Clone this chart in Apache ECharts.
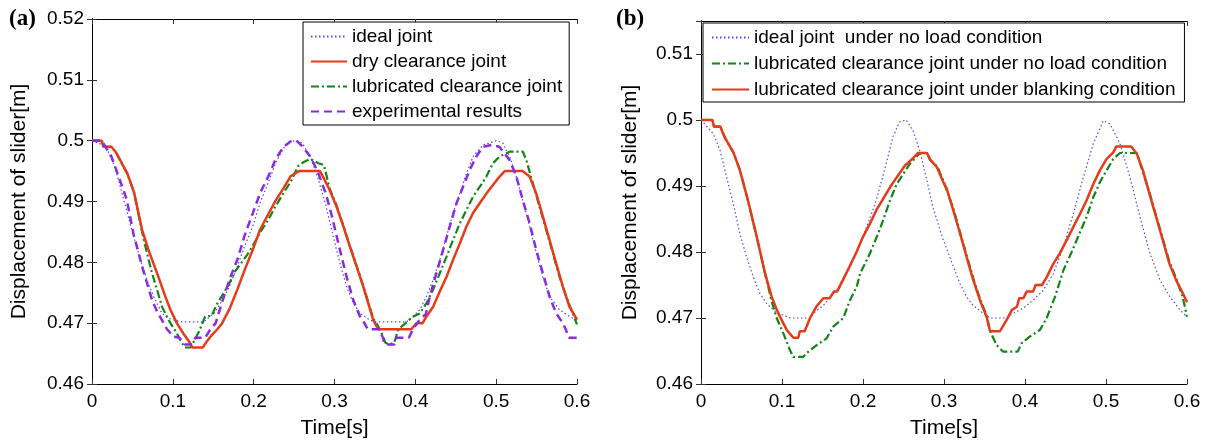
<!DOCTYPE html>
<html>
<head>
<meta charset="utf-8">
<script src="https://cdn.jsdelivr.net/npm/echarts@6/dist/echarts.min.js"></script>
<style>
html,body{margin:0;padding:0;background:#fff;}
#chart{width:1213px;height:447px;}
</style>
</head>
<body>
<div id="chart"></div>
<script>
// ---------- Data (time [s], displacement [m]) ----------
const xTicks = [0, 0.1, 0.2, 0.3, 0.4, 0.5, 0.6];
const yTicksA = [0.46, 0.47, 0.48, 0.49, 0.5, 0.51, 0.52];
const yTicksB = [0.46, 0.47, 0.48, 0.49, 0.5, 0.51];

const namesA = ['ideal joint', 'dry clearance joint', 'lubricated clearance joint', 'experimental results'];
const namesB = ['ideal joint  under no load condition', 'lubricated clearance joint under no load condition', 'lubricated clearance joint under blanking condition'];

// Panel (a)
const idealA = [[0,0.5],[0.01,0.4995],[0.019,0.4985],[0.028,0.4958],[0.038,0.4909],[0.047,0.4865],[0.0516,0.4842],[0.06,0.4804],[0.068,0.4771],[0.0763,0.4744],[0.0866,0.4716],[0.095,0.4708],[0.104,0.4704],[0.112,0.4702],[0.138,0.4702],[0.151,0.4716],[0.161,0.4737],[0.17,0.476],[0.18,0.4794],[0.189,0.4827],[0.199,0.486],[0.208,0.4898],[0.218,0.4931],[0.227,0.4963],[0.237,0.4988],[0.246,0.4999],[0.253,0.5],[0.26,0.4996],[0.27,0.4974],[0.279,0.4941],[0.289,0.4895],[0.2985,0.4842],[0.3068,0.4798],[0.315,0.476],[0.3232,0.4733],[0.3315,0.4716],[0.3438,0.4705],[0.352,0.4702],[0.389,0.4702],[0.3973,0.4711],[0.4055,0.4722],[0.4138,0.4744],[0.422,0.4771],[0.4302,0.4804],[0.4385,0.4842],[0.4467,0.4881],[0.455,0.4913],[0.4632,0.4946],[0.4714,0.4974],[0.4837,0.4993],[0.5002,0.5],[0.5084,0.4996],[0.5167,0.4974],[0.525,0.4941],[0.533,0.4902],[0.5414,0.4859],[0.5496,0.4815],[0.5578,0.4776],[0.566,0.4744],[0.5784,0.4722],[0.5907,0.4711],[0.6,0.4705]];
const dryA = [[0,0.5],[0.012,0.5],[0.014,0.499],[0.024,0.499],[0.03,0.498],[0.036,0.4965],[0.044,0.4945],[0.052,0.4915],[0.062,0.4853],[0.07,0.482],[0.0805,0.4782],[0.0907,0.4744],[0.097,0.4722],[0.105,0.47],[0.113,0.4683],[0.12,0.467],[0.124,0.466],[0.137,0.466],[0.142,0.467],[0.148,0.468],[0.155,0.469],[0.161,0.47],[0.17,0.4723],[0.18,0.4756],[0.189,0.4788],[0.199,0.4821],[0.208,0.4854],[0.218,0.4879],[0.227,0.4901],[0.237,0.4922],[0.246,0.4942],[0.256,0.495],[0.282,0.495],[0.288,0.4935],[0.294,0.4919],[0.3027,0.4891],[0.311,0.4859],[0.319,0.4826],[0.3274,0.4793],[0.3356,0.476],[0.3417,0.4733],[0.348,0.4705],[0.354,0.469],[0.395,0.469],[0.4015,0.47],[0.409,0.47],[0.4138,0.4711],[0.422,0.4727],[0.4302,0.4752],[0.4385,0.4776],[0.4467,0.4804],[0.455,0.4831],[0.4632,0.4859],[0.4714,0.4881],[0.4796,0.4897],[0.4879,0.4913],[0.496,0.4927],[0.5043,0.4941],[0.5105,0.495],[0.5327,0.495],[0.5414,0.4941],[0.5496,0.4913],[0.5578,0.4875],[0.566,0.4837],[0.5743,0.4798],[0.5825,0.476],[0.5907,0.4727],[0.6,0.4706]];
const lubA = [[0,0.5],[0.012,0.5],[0.014,0.499],[0.024,0.499],[0.03,0.498],[0.036,0.4965],[0.044,0.4945],[0.052,0.4915],[0.062,0.485],[0.068,0.4815],[0.0743,0.4782],[0.0805,0.4755],[0.0866,0.4727],[0.0948,0.4705],[0.105,0.4683],[0.11,0.467],[0.115,0.466],[0.122,0.466],[0.126,0.467],[0.132,0.4685],[0.14,0.4711],[0.148,0.4712],[0.154,0.473],[0.169,0.4763],[0.177,0.4785],[0.194,0.4816],[0.208,0.4849],[0.218,0.487],[0.227,0.4892],[0.237,0.4914],[0.246,0.4933],[0.255,0.4958],[0.262,0.4965],[0.27,0.497],[0.28,0.4963],[0.287,0.496],[0.294,0.4921],[0.3027,0.4893],[0.311,0.486],[0.319,0.4827],[0.3274,0.4794],[0.3356,0.4761],[0.3417,0.4735],[0.348,0.4707],[0.352,0.47],[0.358,0.4685],[0.363,0.4668],[0.368,0.4665],[0.374,0.4668],[0.379,0.469],[0.388,0.47],[0.396,0.471],[0.4056,0.4716],[0.4138,0.4733],[0.422,0.4755],[0.4302,0.4782],[0.4385,0.4809],[0.4467,0.4837],[0.455,0.4864],[0.4632,0.4886],[0.4714,0.4908],[0.4796,0.4924],[0.4879,0.4941],[0.496,0.4963],[0.5043,0.4974],[0.5167,0.4982],[0.533,0.4982],[0.5373,0.4968],[0.5454,0.493],[0.5537,0.4891],[0.562,0.4853],[0.5701,0.4815],[0.5784,0.4776],[0.5866,0.4744],[0.5948,0.4716],[0.6,0.4698]];
const expA = [[0,0.5],[0.012,0.5],[0.024,0.4974],[0.033,0.4941],[0.043,0.4903],[0.0516,0.4845],[0.0578,0.4815],[0.062,0.4793],[0.068,0.4766],[0.0743,0.4738],[0.0805,0.4719],[0.0866,0.4705],[0.0928,0.469],[0.101,0.4678],[0.108,0.4676],[0.115,0.4665],[0.122,0.4665],[0.128,0.4676],[0.14,0.4676],[0.146,0.4689],[0.153,0.47],[0.161,0.4735],[0.171,0.4775],[0.18,0.4805],[0.189,0.4845],[0.199,0.4881],[0.208,0.4914],[0.218,0.4941],[0.227,0.4969],[0.237,0.499],[0.246,0.4999],[0.253,0.5],[0.26,0.4991],[0.27,0.4974],[0.279,0.495],[0.289,0.4914],[0.296,0.488],[0.3068,0.482],[0.315,0.4776],[0.3232,0.4738],[0.3315,0.4711],[0.337,0.47],[0.341,0.469],[0.355,0.469],[0.36,0.4676],[0.362,0.4665],[0.374,0.4665],[0.377,0.4676],[0.392,0.4676],[0.397,0.469],[0.405,0.4705],[0.413,0.4715],[0.418,0.4744],[0.426,0.4782],[0.4343,0.482],[0.4426,0.4859],[0.4509,0.4897],[0.459,0.4924],[0.4673,0.4952],[0.4755,0.4974],[0.4837,0.499],[0.495,0.4993],[0.504,0.499],[0.5167,0.4968],[0.525,0.4941],[0.533,0.4902],[0.5414,0.4864],[0.5496,0.482],[0.5578,0.4782],[0.566,0.4744],[0.5743,0.4716],[0.5825,0.47],[0.586,0.469],[0.59,0.4676],[0.6,0.4676]];

// Panel (b)
const idealB = [[0,0.5],[0.0152,0.4979],[0.0235,0.4954],[0.0317,0.4913],[0.0399,0.4873],[0.048,0.4828],[0.0564,0.4792],[0.0646,0.4762],[0.0728,0.4737],[0.0811,0.4722],[0.0893,0.4712],[0.1016,0.4704],[0.11,0.47],[0.135,0.47],[0.1386,0.4707],[0.151,0.4719],[0.1675,0.4742],[0.1839,0.4777],[0.2,0.4823],[0.2163,0.4878],[0.2287,0.4934],[0.2368,0.4974],[0.245,0.4997],[0.2535,0.5],[0.2617,0.4984],[0.27,0.4954],[0.278,0.4913],[0.2863,0.4868],[0.2986,0.482],[0.3033,0.4805],[0.3115,0.4778],[0.3198,0.4752],[0.328,0.4732],[0.336,0.4719],[0.3485,0.4707],[0.357,0.47],[0.377,0.47],[0.3856,0.4707],[0.398,0.4715],[0.41,0.4727],[0.4226,0.4742],[0.435,0.4767],[0.4473,0.4808],[0.4597,0.4858],[0.472,0.4913],[0.4843,0.4964],[0.4967,0.4999],[0.505,0.4994],[0.5173,0.4964],[0.5296,0.4913],[0.542,0.4853],[0.5543,0.4798],[0.5667,0.4757],[0.579,0.4732],[0.5914,0.4712],[0.6,0.4702]];
const lubB = [[0,0.5],[0.014,0.5],[0.016,0.499],[0.024,0.499],[0.03,0.4972],[0.04,0.4951],[0.048,0.4924],[0.058,0.4878],[0.0688,0.4823],[0.079,0.4768],[0.0873,0.4725],[0.0934,0.47],[0.1016,0.4677],[0.1099,0.4651],[0.114,0.4641],[0.126,0.4641],[0.1305,0.4647],[0.1428,0.4659],[0.155,0.4669],[0.1633,0.4687],[0.1757,0.47],[0.1839,0.4727],[0.1922,0.4747],[0.1963,0.4767],[0.2086,0.4798],[0.221,0.4835],[0.2333,0.4878],[0.2416,0.4903],[0.258,0.4934],[0.2704,0.495],[0.28,0.495],[0.2827,0.494],[0.292,0.4929],[0.3,0.4905],[0.3115,0.4866],[0.3198,0.483],[0.328,0.4795],[0.3362,0.476],[0.3444,0.4729],[0.3526,0.4704],[0.3568,0.468],[0.365,0.4659],[0.373,0.4649],[0.391,0.4649],[0.3959,0.4662],[0.4062,0.4672],[0.4185,0.4682],[0.4268,0.47],[0.437,0.4732],[0.4473,0.4772],[0.4576,0.48],[0.4679,0.483],[0.476,0.4853],[0.4843,0.4883],[0.4926,0.4906],[0.5008,0.4924],[0.509,0.4941],[0.5172,0.495],[0.538,0.495],[0.5455,0.4921],[0.5537,0.489],[0.5619,0.4855],[0.5701,0.482],[0.5784,0.4785],[0.5867,0.476],[0.595,0.473],[0.6,0.4702]];
const blankB = [[0,0.5],[0.014,0.5],[0.016,0.499],[0.024,0.499],[0.027,0.498],[0.03,0.4972],[0.04,0.4951],[0.048,0.4924],[0.058,0.4878],[0.0688,0.4823],[0.079,0.4768],[0.0873,0.4732],[0.0954,0.4707],[0.1058,0.4682],[0.114,0.467],[0.12,0.467],[0.122,0.468],[0.128,0.468],[0.1346,0.47],[0.1423,0.4717],[0.151,0.473],[0.159,0.473],[0.164,0.474],[0.168,0.474],[0.175,0.4757],[0.183,0.4777],[0.192,0.48],[0.2,0.4823],[0.2086,0.4843],[0.2163,0.4863],[0.225,0.4881],[0.2333,0.4898],[0.2416,0.4913],[0.2518,0.4931],[0.26,0.494],[0.268,0.495],[0.279,0.495],[0.2827,0.494],[0.291,0.4929],[0.2995,0.4905],[0.3033,0.4896],[0.3115,0.4863],[0.3198,0.4828],[0.328,0.4792],[0.3362,0.4757],[0.3444,0.4727],[0.3526,0.4702],[0.3568,0.468],[0.3691,0.468],[0.3774,0.4697],[0.3836,0.4712],[0.39,0.4717],[0.393,0.473],[0.398,0.473],[0.402,0.474],[0.41,0.474],[0.413,0.475],[0.421,0.475],[0.4268,0.4762],[0.4349,0.4782],[0.443,0.4798],[0.4515,0.4818],[0.4597,0.4838],[0.468,0.4858],[0.476,0.4878],[0.4843,0.4903],[0.4926,0.4924],[0.5008,0.4941],[0.509,0.4951],[0.5128,0.496],[0.5311,0.496],[0.538,0.4949],[0.5455,0.4924],[0.5537,0.4888],[0.5619,0.4853],[0.5701,0.4818],[0.5784,0.4782],[0.5867,0.4757],[0.595,0.4737],[0.6,0.4724]];

// ---------- Styles ----------
const FONT = "'Liberation Sans', Arial, Helvetica, sans-serif";
const C_BLUE = '#4a4af5', C_RED = '#e63b1a', C_GREEN = '#12841a', C_PURPLE = '#8a2be2';

function xAxes(grid) {
  const base = {
    gridIndex: grid, type: 'value', min: xTicks[0], max: xTicks[xTicks.length - 1], interval: 0.1,
    splitLine: {show: false},
    axisLine: {show: true, lineStyle: {color: '#000', width: 1}},
    axisTick: {show: true, inside: true, length: 5, lineStyle: {color: '#333'}}
  };
  return [
    Object.assign({}, base, {
      position: 'bottom', name: 'Time[s]', nameLocation: 'middle', nameGap: 34,
      nameTextStyle: {fontFamily: FONT, fontSize: 21, color: '#000'},
      axisLabel: {show: true, margin: 8, fontFamily: FONT, fontSize: 19, color: '#000'}
    }),
    Object.assign({}, base, {position: 'top', axisLabel: {show: false}})
  ];
}
function yAxes(grid, ticks, max) {
  const base = {
    gridIndex: grid, type: 'value', min: ticks[0], max: max, interval: 0.01,
    splitLine: {show: false},
    axisLine: {show: true, lineStyle: {color: '#000', width: 1}},
    axisTick: {show: true, inside: true, length: 5, lineStyle: {color: '#333'}}
  };
  return [
    Object.assign({}, base, {
      position: 'left', name: 'Displacement of slider[m]', nameLocation: 'middle', nameGap: grid === 0 ? 62 : 60,
      nameTextStyle: {fontFamily: FONT, fontSize: 21, color: '#000'},
      axisLabel: {show: true, margin: 8, fontFamily: FONT, fontSize: 19, color: '#000',
        showMaxLabel: max === ticks[ticks.length - 1]}
    }),
    Object.assign({}, base, {position: 'right', axisLabel: {show: false}})
  ];
}
function line(name, data, xi, yi, color, type, width, z) {
  return {
    name: name, type: 'line', data: data, xAxisIndex: xi, yAxisIndex: yi,
    symbol: 'none', showSymbol: false, smooth: false, z: z,
    lineStyle: {color: color, type: type, width: width},
    itemStyle: {color: color},
    emphasis: {disabled: true}
  };
}

const legendBase = {
  orient: 'vertical', selectedMode: false, backgroundColor: '#fff',
  borderColor: '#000', borderWidth: 1, borderRadius: 0,
  itemStyle: {opacity: 0},
  textStyle: {fontFamily: FONT, fontSize: 19, color: '#000'}
};

const option = {
  animation: false,
  backgroundColor: '#fff',
  grid: [
    {left: 92, top: 19, width: 485, height: 365, containLabel: false},
    {left: 701, top: 21, width: 486, height: 363, containLabel: false}
  ],
  xAxis: xAxes(0).concat(xAxes(1)),
  yAxis: yAxes(0, yTicksA, 0.52).concat(yAxes(1, yTicksB, 0.515)),
  legend: [
    Object.assign({}, legendBase, {
      data: namesA, left: 303, top: 22, padding: [5, 7, 4, 7], itemGap: 6, itemWidth: 36, itemHeight: 12
    }),
    Object.assign({}, legendBase, {
      data: namesB, left: 703, top: 23, padding: [5, 9, 3, 8], itemGap: 7, itemWidth: 37, itemHeight: 12
    })
  ],
  graphic: [
    {type: 'text', left: 9, top: 8, style: {text: '(a)', font: "bold 23px 'Liberation Serif', 'Times New Roman', serif", fill: '#000'}},
    {type: 'text', left: 616, top: 8, style: {text: '(b)', font: "bold 23px 'Liberation Serif', 'Times New Roman', serif", fill: '#000'}}
  ],
  series: [
    line(namesA[0], idealA, 0, 0, C_BLUE, [1.5, 2.5], 1.2, 2),
    line(namesA[1], dryA, 0, 0, C_RED, 'solid', 2.5, 4),
    line(namesA[2], lubA, 0, 0, C_GREEN, [8, 3, 2, 3], 2.2, 3),
    line(namesA[3], expA, 0, 0, C_PURPLE, [8, 5], 2.5, 5),
    line(namesB[0], idealB, 2, 2, C_BLUE, [1.5, 2.5], 1.2, 2),
    line(namesB[1], lubB, 2, 2, C_GREEN, [8, 3, 2, 3], 2.2, 3),
    line(namesB[2], blankB, 2, 2, C_RED, 'solid', 2.5, 4)
  ]
};

const chart = echarts.init(document.getElementById('chart'), null, {renderer: 'canvas'});
chart.setOption(option);
</script>
</body>
</html>
